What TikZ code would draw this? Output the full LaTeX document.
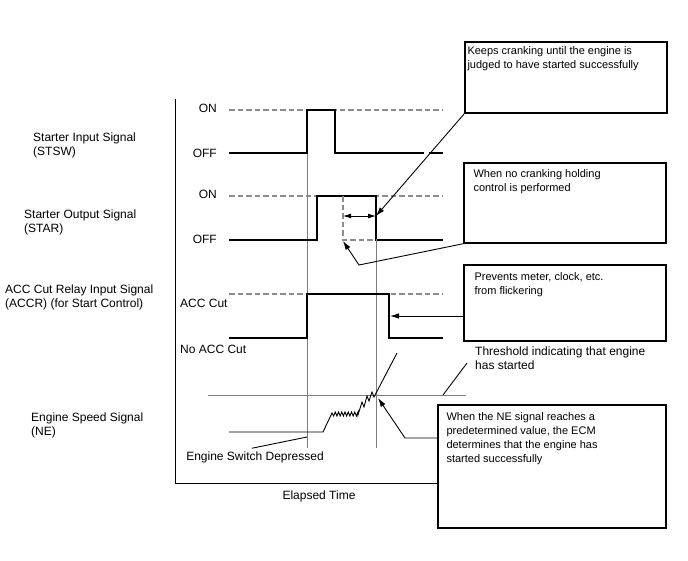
\documentclass[tikz,border=0pt]{standalone}
\usepackage{fontspec}
\setmainfont{Liberation Sans}
\usetikzlibrary{arrows.meta, positioning}
\definecolor{guidegray}{RGB}{125,125,125}
\definecolor{levelgray}{RGB}{140,140,140}
\tikzset{sig/.style={line width=2pt},
         level/.style={draw=levelgray,line width=1.4pt,dash pattern=on 5.5pt off 3pt},
         guide/.style={draw=guidegray,line width=1pt},
         callout/.style={draw,line width=1.4pt,fill=white,inner sep=0pt},
         boxtext/.style={inner sep=0pt,align=left,font=\fontsize{11}{14}\selectfont},
         lbl/.style={inner sep=2pt,align=left,font=\fontsize{12}{14}\selectfont},
         leader/.style={line width=0.9pt,-{Latex[length=9pt,width=5.5pt]}}}

\begin{document}
\begin{tikzpicture}[x=1pt,y=-1pt]
        \useasboundingbox (0,0) rectangle (688,560);

        % signal names
        \node[lbl, anchor=west](stsw)at(31,145.5){Starter Input Signal\\(STSW)};
        \node[lbl, anchor=west](star)at(22,222.5){Starter Output Signal\\(STAR)};
        \node[lbl, anchor=west](accr)at(3,297){ACC Cut Relay Input Signal\\(ACCR) (for Start Control)};
        \node[lbl, anchor=west](ne)at(29,425.5){Engine Speed Signal\\(NE)};

        % levels
        \node[lbl, anchor=east](on1)at(219,108){ON};
        \node[lbl, anchor=east](off1)at(219,153){OFF};
        \node[lbl, anchor=east](on2)at(219,194){ON};
        \node[lbl, anchor=east](off2)at(219,239){OFF};
        \node[lbl, anchor=west](acccut)at(178,303){ACC Cut};
        \node[lbl, anchor=west](noacc)at(178,349){No ACC Cut};

        % axes
        \draw[line width=1pt](175,99)--(175,483)--(438,483);
        \node[lbl](time)at(319,496){Elapsed Time};

        % guides
        \draw[guide](307,110)--(307,448);
        \draw[guide](376,196)--(376,448);
        \draw[guide](208,395)--(466,395);

        % STSW
        \draw[level](229,110)--(443,110);
        \draw[sig](229,153)--(307,153)--(307,110)--(335,110)--(335,153)--(424,153);
        \draw[sig](429,153)--(443,153);

        % STAR
        \draw[level](229,196)--(443,196);
        \draw[sig](229,240)--(317,240)--(317,196)--(376,196)--(376,240)--(443,240);
        \draw[level,line width=1.2pt](343,196)--(343,240)--(376,240);
        \coordinate (holdl) at (343,216);
        \coordinate (holdr) at (376,216);
        \draw[line width=0.9pt,{Latex[length=8pt,width=5pt]}-{Latex[length=8pt,width=5pt]}](holdl)--(holdr);

        % ACCR
        \draw[level](229,294)--(443,294);
        \draw[sig](229,338)--(307,338)--(307,294)--(389,294)--(389,338)--(443,338);

        % NE
        \draw[line width=0.9pt](229,432)--(323,432)--(332,413)
            \foreach \i in {1,...,8}{--({332+3.25*\i-1.6},416)--({332+3.25*\i},412)}
            --(358,415)--(362,402)--(364,407)--(367,396)--(369,401)--(372,392)--(374,397)--(397,353);

        % callouts
        \node[callout, minimum width=202pt, minimum height=71pt](b1)at(566,77.5){};
        \node[boxtext, anchor=north west](t1)at([shift={(3,5)}]b1.north west){Keeps cranking until the engine is\\judged to have started successfully};
        \node[callout, minimum width=202pt, minimum height=80pt](b2)at(565,203){};
        \node[boxtext, anchor=north west](t2)at([shift={(10,7)}]b2.north west){When no cranking holding\\control is performed};
        \node[callout, minimum width=202pt, minimum height=76pt](b3)at(565,303){};
        \node[boxtext, anchor=north west](t3)at([shift={(11,8)}]b3.north west){Prevents meter, clock, etc.\\from flickering};
        \node[callout, minimum width=228pt, minimum height=123pt](b4)at(552,466.5){};
        \node[boxtext, anchor=north west](t4)at([shift={(9,8)}]b4.north west){When the NE signal reaches a\\predetermined value, the ECM\\determines that the engine has\\started successfully};

        \node[lbl, anchor=west](thr)at(473,358){Threshold indicating that engine\\has started};
        \node[lbl](esd)at(255,457){Engine Switch Depressed};

        % leaders
        \coordinate (nobend) at (359,265);
        \coordinate (notip) at (343,241);
        \coordinate (accfall) at (390,316);
        \coordinate (nebend) at (405,438);
        \coordinate (netip) at (378,398);
        \coordinate (thrpt) at (443,395);
        \coordinate (esdpt) at (307,437);

        \draw[leader](b1.south west)--(holdr);
        \draw[leader](b2.south west)--(nobend)--(notip);
        \draw[leader](b3.west |- accfall)--(accfall);
        \draw[leader](b4.west |- nebend)--(nebend)--(netip);
        \draw[line width=0.9pt](thrpt)--([shift={(-6,5)}]thr.west);
        \draw[line width=0.9pt]([shift={(-3,-1)}]esd.north)--(esdpt);
    \end{tikzpicture}
\end{document}
